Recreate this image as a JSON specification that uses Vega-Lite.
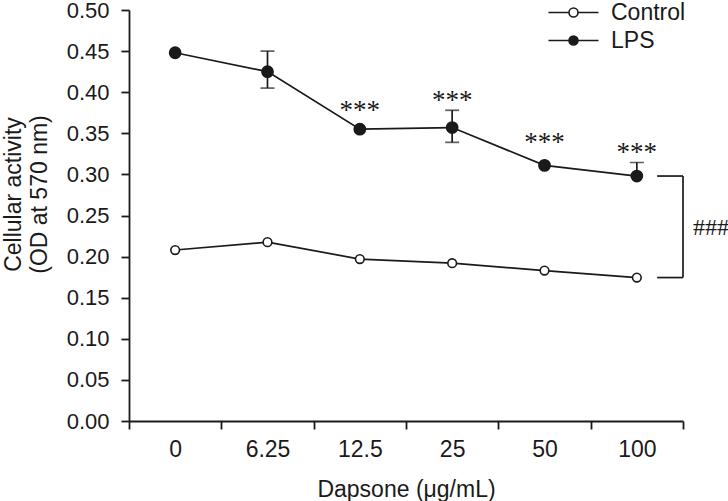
{
  "$schema": "https://vega.github.io/schema/vega-lite/v6.json",
  "autosize": "none",
  "width": 554,
  "height": 411,
  "padding": {"left": 129, "top": 10, "right": 45, "bottom": 80},
  "background": "white",
  "config": {
    "view": {"stroke": null},
    "font": "Liberation Sans",
    "axis": {"grid": false, "domainColor": "#1a1a1a", "tickColor": "#1a1a1a", "domainWidth": 1.8, "tickWidth": 1.8, "labelColor": "#1a1a1a", "titleColor": "#1a1a1a", "labelFont": "Liberation Sans", "titleFont": "Liberation Sans", "titleFontWeight": "normal"}
  },
  "datasets": {
    "main": [
      {"dose": "0", "group": "Control", "value": 0.208},
      {"dose": "6.25", "group": "Control", "value": 0.2176},
      {"dose": "12.5", "group": "Control", "value": 0.197},
      {"dose": "25", "group": "Control", "value": 0.192},
      {"dose": "50", "group": "Control", "value": 0.183},
      {"dose": "100", "group": "Control", "value": 0.1745},
      {"dose": "0", "group": "LPS", "value": 0.448},
      {"dose": "6.25", "group": "LPS", "value": 0.425, "lo": 0.405, "hi": 0.45},
      {"dose": "12.5", "group": "LPS", "value": 0.355, "sig": "***", "sigY": 0.368},
      {"dose": "25", "group": "LPS", "value": 0.357, "lo": 0.339, "hi": 0.378, "sig": "***", "sigY": 0.3794},
      {"dose": "50", "group": "LPS", "value": 0.311, "sig": "***", "sigY": 0.328},
      {"dose": "100", "group": "LPS", "value": 0.298, "lo": 0.298, "hi": 0.3145, "sig": "***", "sigY": 0.3157}
    ],
    "bracket": [
      {"dose": "100", "y": 0.298, "y2": 0.1745, "label": "###", "labelY": 0.235}
    ]
  },
  "data": {"name": "main"},
  "encoding": {
    "x": {
      "field": "dose", "type": "ordinal", "sort": null,
      "scale": {"domain": ["0", "6.25", "12.5", "25", "50", "100"], "paddingInner": 0, "paddingOuter": 0},
      "axis": {"title": "Dapsone (μg/mL)", "labelAngle": 0, "labelFontSize": 23, "titleFontSize": 23, "tickBand": "extent", "tickSize": 8, "labelPadding": 9, "titleY": 75, "titleBaseline": "alphabetic"}
    }
  },
  "layer": [
    {
      "mark": {"type": "line", "stroke": "#1a1a1a", "strokeWidth": 1.7},
      "encoding": {
        "y": {
          "field": "value", "type": "quantitative",
          "scale": {"domain": [0, 0.5], "nice": false, "zero": true},
          "axis": {"title": ["Cellular activity", "(OD at 570 nm)"], "values": [0, 0.05, 0.1, 0.15, 0.2, 0.25, 0.3, 0.35, 0.4, 0.45, 0.5], "format": ".2f", "labelFontSize": 22, "titleFontSize": 23, "tickSize": 8, "labelPadding": 12, "titleX": -127, "titleY": 184, "titleBaseline": "top", "titleLineHeight": 26}
        },
        "detail": {"field": "group"}
      }
    },
    {
      "transform": [{"filter": "datum.hi != null"}],
      "mark": {"type": "rule", "stroke": "#1a1a1a", "strokeWidth": 1.7},
      "encoding": {"y": {"field": "lo", "type": "quantitative"}, "y2": {"field": "hi"}}
    },
    {
      "transform": [{"filter": "datum.hi != null"}],
      "mark": {"type": "tick", "color": "#1a1a1a", "size": 14, "thickness": 1.7},
      "encoding": {"y": {"field": "hi", "type": "quantitative"}}
    },
    {
      "transform": [{"filter": "datum.lo != null && datum.lo < datum.value"}],
      "mark": {"type": "tick", "color": "#1a1a1a", "size": 14, "thickness": 1.7},
      "encoding": {"y": {"field": "lo", "type": "quantitative"}}
    },
    {
      "transform": [{"filter": "datum.group == 'Control'"}],
      "mark": {"type": "point", "filled": false, "stroke": "#1a1a1a", "strokeWidth": 1.6, "opacity": 1, "size": 75},
      "encoding": {
        "y": {"field": "value", "type": "quantitative"},
        "fill": {
          "field": "group", "type": "nominal",
          "scale": {"domain": ["Control", "LPS"], "range": ["white", "#1a1a1a"]},
          "legend": {
            "title": null, "orient": "none", "legendX": 433, "legendY": -9, "padding": 0,
            "labelFontSize": 23, "labelColor": "#1a1a1a", "labelFont": "Liberation Sans",
            "symbolType": "M-2.5,0L-0.45,0M0.45,0L2.5,0M0.45,0A0.45,0.45,0,1,1,-0.45,0A0.45,0.45,0,1,1,0.45,0Z",
            "symbolSize": 400, "labelOffset": 26, "rowPadding": 4,
            "symbolStrokeColor": "#1a1a1a", "symbolStrokeWidth": 1.6,
            "encode": {"symbols": {"update": {"size": {"value": 400}, "stroke": {"value": "#1a1a1a"}, "strokeWidth": {"value": 1.6}, "opacity": {"value": 1}}}}
          }
        }
      }
    },
    {
      "transform": [{"filter": "datum.group == 'LPS'"}],
      "mark": {"type": "point", "filled": false, "stroke": "#1a1a1a", "strokeWidth": 1.6, "opacity": 1, "size": 125},
      "encoding": {
        "y": {"field": "value", "type": "quantitative"},
        "fill": {"field": "group", "type": "nominal"}
      }
    },
    {
      "transform": [{"filter": "datum.sig != null"}],
      "mark": {"type": "text", "font": "Liberation Serif", "fontSize": 27, "baseline": "alphabetic", "align": "center", "color": "#1a1a1a"},
      "encoding": {"y": {"field": "sigY", "type": "quantitative"}, "text": {"field": "sig"}}
    },
    {
      "data": {"name": "bracket"},
      "mark": {"type": "rule", "stroke": "#1a1a1a", "strokeWidth": 1.7},
      "encoding": {
        "x": {"field": "dose", "type": "ordinal", "bandPosition": 0.72},
        "x2": {"field": "dose", "bandPosition": 1},
        "y": {"field": "y", "type": "quantitative"}
      }
    },
    {
      "data": {"name": "bracket"},
      "mark": {"type": "rule", "stroke": "#1a1a1a", "strokeWidth": 1.7},
      "encoding": {
        "x": {"field": "dose", "type": "ordinal", "bandPosition": 0.72},
        "x2": {"field": "dose", "bandPosition": 1},
        "y": {"field": "y2", "type": "quantitative"}
      }
    },
    {
      "data": {"name": "bracket"},
      "mark": {"type": "rule", "stroke": "#1a1a1a", "strokeWidth": 1.7},
      "encoding": {
        "x": {"field": "dose", "type": "ordinal", "bandPosition": 1},
        "y": {"field": "y", "type": "quantitative"},
        "y2": {"field": "y2"}
      }
    },
    {
      "data": {"name": "bracket"},
      "mark": {"type": "text", "font": "Liberation Serif", "fontSize": 24, "align": "left", "baseline": "middle", "dx": 10, "color": "#1a1a1a"},
      "encoding": {
        "x": {"field": "dose", "type": "ordinal", "bandPosition": 1},
        "y": {"field": "labelY", "type": "quantitative"},
        "text": {"field": "label"}
      }
    }
  ]
}
